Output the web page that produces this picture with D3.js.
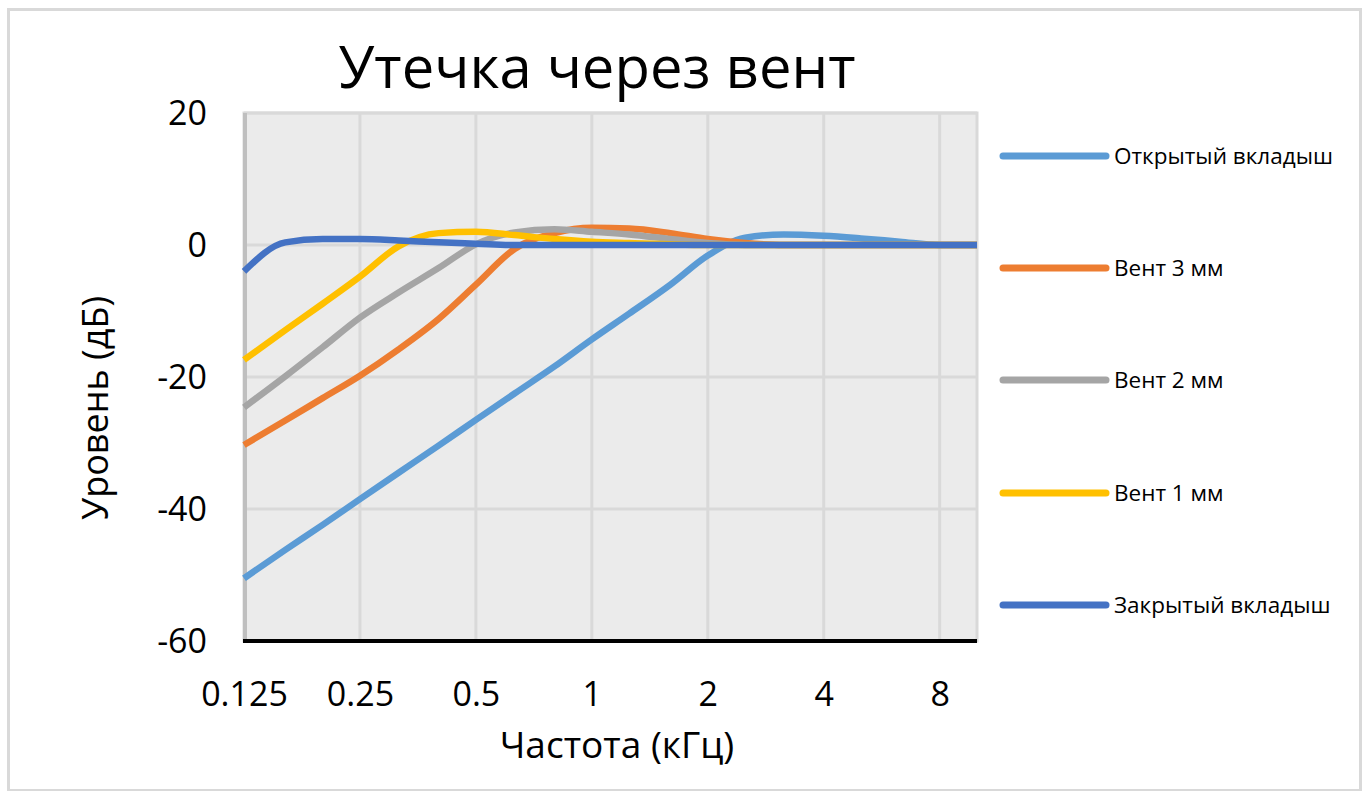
<!DOCTYPE html>
<html><head><meta charset="utf-8">
<script src="https://cdn.jsdelivr.net/npm/d3@7"></script>
<style>
html,body{margin:0;padding:0;background:#fff;}
svg{display:block;font-family:"Open Sans","Noto Sans",sans-serif;}
</style></head>
<body>
<svg id="chart" width="1364" height="791"></svg>
<script>
const title = "Утечка через вент";
const xTitle = "Частота (кГц)";
const yTitle = "Уровень (дБ)";
const freqs = [0.125,0.16,0.2,0.25,0.315,0.4,0.5,0.63,0.8,1,1.25,1.6,2,2.5,3.15,4,5,6.3,8,10];
const xTickValues = [0.125,0.25,0.5,1,2,4,8];
const xTickLabels = ["0.125","0.25","0.5","1","2","4","8"];
const yTickValues = [20,0,-20,-40,-60];
const yTickLabels = ["20","0","-20","-40","-60"];
const seriesNames = ["Открытый вкладыш","Вент 3 мм","Вент 2 мм","Вент 1 мм","Закрытый вкладыш"];
const openValues   = [-50.5,-46.2,-42.4,-38.5,-34.5,-30.4,-26.5,-22.5,-18.4,-14.3,-10.4,-6.0,-1.6,1.1,1.6,1.4,1.0,0.5,0,0];
const vent3Values  = [-30.3,-26.6,-23.2,-19.8,-15.8,-11.2,-6.0,-0.6,1.8,2.6,2.5,1.8,0.9,0.3,0,0,0,0,0,0];
const vent2Values  = [-24.6,-19.9,-15.5,-11.0,-7.2,-3.5,0.1,1.9,2.4,2.0,1.6,0.9,0.3,0,0,0,0,0,0,0];
const vent1Values  = [-17.4,-12.9,-8.9,-4.8,-0.2,1.8,2.0,1.5,0.9,0.5,0.3,0.1,0,0,0,0,0,0,0,0];
const closedValues = [-4.0,0.4,0.9,0.9,0.7,0.4,0.2,0,0,0,0,0,0,0,0,0,0,0,0,0];
const seriesValues = [openValues, vent3Values, vent2Values, vent1Values, closedValues];
const colors = ["#5b9bd5","#ed7d31","#a5a5a5","#ffc000","#4472c4"];

const svg = d3.select("#chart");
const plot = {left:244, right:977, top:113, bottom:641};

// outer border
svg.append("rect").attr("x",8.5).attr("y",9.5).attr("width",1352).attr("height",781)
  .attr("fill","#fff").attr("stroke","#d9d9d9").attr("stroke-width",3);

const x = d3.scaleLog().base(2).domain([0.125,10]).range([plot.left, plot.right]);
const y = d3.scaleLinear().domain([-60,20]).range([plot.bottom, plot.top]);

// plot background
svg.append("rect").attr("x",plot.left).attr("y",plot.top)
  .attr("width",plot.right-plot.left).attr("height",plot.bottom-plot.top)
  .attr("fill","#ebebeb").attr("stroke","#d9d9d9").attr("stroke-width",3);

// gridlines
svg.append("g").selectAll("line").data(xTickValues.slice(1)).join("line")
  .attr("x1",d=>x(d)).attr("x2",d=>x(d)).attr("y1",plot.top).attr("y2",plot.bottom)
  .attr("stroke","#d9d9d9").attr("stroke-width",3);
svg.append("g").selectAll("line").data(yTickValues.slice(0,-1)).join("line")
  .attr("x1",plot.left).attr("x2",plot.right).attr("y1",d=>y(d)).attr("y2",d=>y(d))
  .attr("stroke","#d9d9d9").attr("stroke-width",3);

// y axis line (gray)
svg.append("line").attr("x1",plot.left+1).attr("x2",plot.left+1).attr("y1",plot.top).attr("y2",plot.bottom)
  .attr("stroke","#bfbfbf").attr("stroke-width",4);

// series
const line = d3.line().x(d=>x(d[0])).y(d=>y(d[1])).curve(d3.curveMonotoneX);
const gSeries = svg.append("g");
seriesValues.forEach((vals,i)=>{
  gSeries.append("path").datum(freqs.map((f,j)=>[f,vals[j]]))
    .attr("d",line).attr("fill","none").attr("stroke",colors[i])
    .attr("stroke-width",6.5).attr("stroke-linejoin","round");
});

// x axis line (black)
svg.append("line").attr("x1",plot.left-1).attr("x2",plot.right).attr("y1",plot.bottom).attr("y2",plot.bottom)
  .attr("stroke","#000").attr("stroke-width",4);

// y axis via d3
const yAxis = d3.axisLeft(y).tickValues(yTickValues).tickFormat((d,i)=>yTickLabels[i]).tickSize(0).tickPadding(0);
const gy = svg.append("g").attr("transform",`translate(207,0)`).call(yAxis);
gy.select(".domain").remove();
gy.selectAll("text").attr("font-size",34).attr("fill","#000")
  .attr("font-family","'Open Sans','Noto Sans',sans-serif").attr("dy","0.35em");

// x axis via d3
const xAxis = d3.axisBottom(x).tickValues(xTickValues).tickFormat((d,i)=>xTickLabels[i]).tickSize(0).tickPadding(0);
const gx = svg.append("g").attr("transform",`translate(0,694)`).call(xAxis);
gx.select(".domain").remove();
gx.selectAll("text").attr("font-size",34).attr("fill","#000")
  .attr("font-family","'Open Sans','Noto Sans',sans-serif").attr("dy","0.35em");

// titles
svg.append("text").attr("x",597).attr("y",88).attr("text-anchor","middle")
  .attr("font-size",58).attr("fill","#000").text(title);
svg.append("text").attr("x",617).attr("y",758).attr("text-anchor","middle")
  .attr("font-size",37).attr("fill","#000").text(xTitle);
svg.append("text").attr("transform","translate(108,408) rotate(-90)").attr("text-anchor","middle")
  .attr("font-size",36).attr("fill","#000").text(yTitle);

// legend
const legendY = [156,268,380,493,605];
const lg = svg.append("g");
seriesNames.forEach((name,i)=>{
  lg.append("line").attr("x1",1003).attr("x2",1106).attr("y1",legendY[i]).attr("y2",legendY[i])
    .attr("stroke",colors[i]).attr("stroke-width",7).attr("stroke-linecap","round");
  lg.append("text").attr("x",1114).attr("y",legendY[i]).attr("dy","0.35em")
    .attr("font-size",22.5).attr("fill","#000").text(name);
});
</script>
</body></html>
